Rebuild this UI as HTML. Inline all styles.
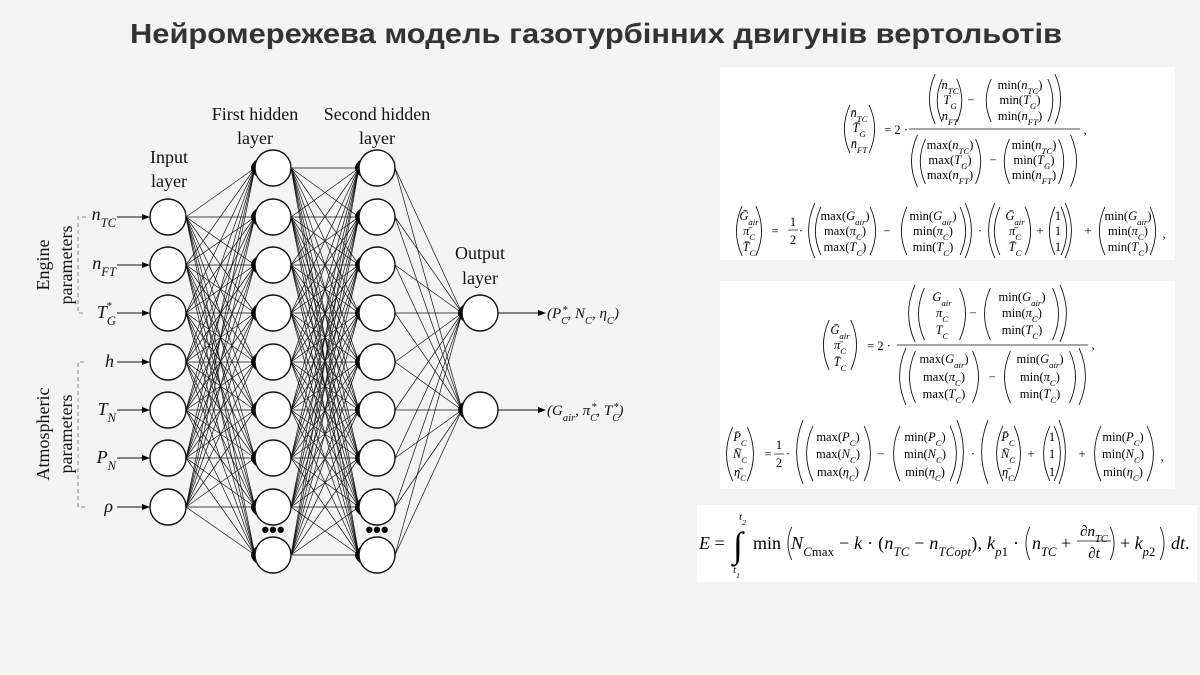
<!DOCTYPE html>
<html><head><meta charset="utf-8">
<style>
html,body{margin:0;padding:0;background:#f4f4f4;}
svg{display:block}
.t{font-family:"Liberation Sans",sans-serif;font-weight:bold;font-size:28px;fill:#333;}
.L{font-family:"Liberation Serif",serif;font-size:18px;fill:#111;text-anchor:middle}
.v{font-family:"Liberation Serif",serif;font-size:18px;font-style:italic;fill:#111;text-anchor:end}
.o{font-family:"Liberation Serif",serif;font-size:15px;font-style:italic;fill:#111}
.s{font-size:70%;baseline-shift:sub}
.p{font-size:70%;baseline-shift:super}
.m{font-family:"Liberation Serif",serif;font-size:12.5px;fill:#000;text-anchor:middle}
.m .i,.e .i{font-style:italic}
.e{font-family:"Liberation Serif",serif;font-size:18px;fill:#000}
</style></head><body>
<svg id="S" width="1200" height="675" viewBox="0 0 1200 675" xmlns="http://www.w3.org/2000/svg">
<rect width="1200" height="675" fill="#f4f4f4"/>
<text class="t" x="130" y="43" textLength="932" lengthAdjust="spacingAndGlyphs">Нейромережева модель газотурбінних двигунів вертольотів</text>

<g id="net" stroke="#111" fill="none" stroke-width="0.7"></g>

<text class="L" x="169" y="163">Input</text><text class="L" x="169" y="187">layer</text>
<text class="L" x="255" y="120">First hidden</text><text class="L" x="255" y="144">layer</text>
<text class="L" x="377" y="120">Second hidden</text><text class="L" x="377" y="144">layer</text>
<text class="L" x="480" y="259">Output</text><text class="L" x="480" y="284">layer</text>

<text class="v" x="116" y="220">n<tspan class="s">TC</tspan></text>
<text class="v" x="116" y="269">n<tspan class="s">FT</tspan></text>
<text class="v" x="116" y="318">T<tspan class="s">G</tspan></text><text class="o" x="106" y="309" style="font-size:11px">*</text>
<text class="v" x="114" y="367">h</text>
<text class="v" x="116" y="415">T<tspan class="s">N</tspan></text>
<text class="v" x="116" y="463">P<tspan class="s">N</tspan></text>
<text class="v" x="113" y="512">ρ</text>

<text class="L" transform="translate(49,265) rotate(-90)">Engine</text>
<text class="L" transform="translate(72,265) rotate(-90)">parameters</text>
<text class="L" transform="translate(49,434) rotate(-90)">Atmospheric</text>
<text class="L" transform="translate(72,434) rotate(-90)">parameters</text>
<path d="M86 217 H78 V313 H86 M84 362 H78 V507 H86" stroke="#888" stroke-dasharray="4,3" fill="none"/>

<text class="o" x="547" y="318">(P<tspan class="s">C</tspan><tspan dx="-6" class="p">*</tspan>, N<tspan class="s">C</tspan>, η<tspan class="s">C</tspan>)</text>
<text class="o" x="547" y="415">(G<tspan class="s">air</tspan>, π<tspan class="s">C</tspan><tspan dx="-6" class="p">*</tspan>, T<tspan class="s">C</tspan><tspan dx="-6" class="p">*</tspan>)</text>
<text x="273" y="537" font-size="22" font-weight="bold" text-anchor="middle" font-family="Liberation Sans">•••</text>
<text x="377" y="537" font-size="22" font-weight="bold" text-anchor="middle" font-family="Liberation Sans">•••</text>

<rect x="720" y="67" width="455" height="193" fill="#fff"/>
<rect x="720" y="281" width="455" height="208" fill="#fff"/>
<rect x="697" y="505" width="500" height="77" fill="#fff"/>
<g id="par" stroke="#111" fill="none" stroke-width="0.9"></g>

<g class="m">
<text x="859" y="117"><tspan class="i">n̄</tspan><tspan class="s i">TC</tspan></text>
<text x="859" y="132"><tspan class="i">T̄</tspan><tspan class="s i">G</tspan></text>
<text x="859" y="148"><tspan class="i">n̄</tspan><tspan class="s i">FT</tspan></text>
<text x="896" y="134">= 2 ·</text>
<text x="950" y="89"><tspan class="i">n</tspan><tspan class="s i">TC</tspan></text>
<text x="950" y="104"><tspan class="i">T</tspan><tspan class="s i">G</tspan></text>
<text x="950" y="120"><tspan class="i">n</tspan><tspan class="s i">FT</tspan></text>
<text x="971" y="104">−</text>
<text x="1020" y="89">min(<tspan class="i">n</tspan><tspan class="s i">TC</tspan>)</text>
<text x="1020" y="104">min(<tspan class="i">T</tspan><tspan class="s i">G</tspan>)</text>
<text x="1020" y="120">min(<tspan class="i">n</tspan><tspan class="s i">FT</tspan>)</text>
<text x="950" y="149">max(<tspan class="i">n</tspan><tspan class="s i">TC</tspan>)</text>
<text x="950" y="164">max(<tspan class="i">T</tspan><tspan class="s i">G</tspan>)</text>
<text x="950" y="179">max(<tspan class="i">n</tspan><tspan class="s i">FT</tspan>)</text>
<text x="993" y="164">−</text>
<text x="1034" y="149">min(<tspan class="i">n</tspan><tspan class="s i">TC</tspan>)</text>
<text x="1034" y="164">min(<tspan class="i">T</tspan><tspan class="s i">G</tspan>)</text>
<text x="1034" y="179">min(<tspan class="i">n</tspan><tspan class="s i">FT</tspan>)</text>
<text x="1085" y="134">,</text>
</g>
<line x1="909" y1="129" x2="1080" y2="129" stroke="#111" stroke-width="0.8"/>

<g class="m">
<text x="749" y="220"><tspan class="i">Ḡ</tspan><tspan class="s i">air</tspan></text>
<text x="749" y="235"><tspan class="i">π̄</tspan><tspan class="s i">C</tspan></text>
<text x="749" y="251"><tspan class="i">T̄</tspan><tspan class="s i">C</tspan></text>
<text x="775" y="235">=</text>
<text x="793" y="226">1</text><text x="793" y="244">2</text>
<text x="801" y="235">·</text>
<text x="845" y="220">max(<tspan class="i">G</tspan><tspan class="s i">air</tspan>)</text>
<text x="845" y="235">max(<tspan class="i">π</tspan><tspan class="s i">C</tspan>)</text>
<text x="845" y="251">max(<tspan class="i">T</tspan><tspan class="s i">C</tspan>)</text>
<text x="887" y="235">−</text>
<text x="933" y="220">min(<tspan class="i">G</tspan><tspan class="s i">air</tspan>)</text>
<text x="933" y="235">min(<tspan class="i">π</tspan><tspan class="s i">C</tspan>)</text>
<text x="933" y="251">min(<tspan class="i">T</tspan><tspan class="s i">C</tspan>)</text>
<text x="980" y="235">·</text>
<text x="1015" y="220"><tspan class="i">Ḡ</tspan><tspan class="s i">air</tspan></text>
<text x="1015" y="235"><tspan class="i">π̄</tspan><tspan class="s i">C</tspan></text>
<text x="1015" y="251"><tspan class="i">T̄</tspan><tspan class="s i">C</tspan></text>
<text x="1040" y="235">+</text>
<text x="1058" y="220">1</text><text x="1058" y="235">1</text><text x="1058" y="251">1</text>
<text x="1088" y="235">+</text>
<text x="1128" y="220">min(<tspan class="i">G</tspan><tspan class="s i">air</tspan>)</text>
<text x="1128" y="235">min(<tspan class="i">π</tspan><tspan class="s i">C</tspan>)</text>
<text x="1128" y="251">min(<tspan class="i">T</tspan><tspan class="s i">C</tspan>)</text>
<text x="1164" y="238">,</text>
</g>
<line x1="788" y1="230" x2="798" y2="230" stroke="#111" stroke-width="0.7"/>

<g class="m">
<text x="840" y="334"><tspan class="i">Ḡ</tspan><tspan class="s i">air</tspan></text>
<text x="840" y="349"><tspan class="i">π̄</tspan><tspan class="s i">C</tspan></text>
<text x="840" y="366"><tspan class="i">T̄</tspan><tspan class="s i">C</tspan></text>
<text x="879" y="350">= 2 ·</text>
<text x="942" y="301"><tspan class="i">G</tspan><tspan class="s i">air</tspan></text>
<text x="942" y="317"><tspan class="i">π</tspan><tspan class="s i">C</tspan></text>
<text x="942" y="334"><tspan class="i">T</tspan><tspan class="s i">C</tspan></text>
<text x="973" y="317">−</text>
<text x="1022" y="301">min(<tspan class="i">G</tspan><tspan class="s i">air</tspan>)</text>
<text x="1022" y="317">min(<tspan class="i">π</tspan><tspan class="s i">C</tspan>)</text>
<text x="1022" y="334">min(<tspan class="i">T</tspan><tspan class="s i">C</tspan>)</text>
<text x="944" y="363">max(<tspan class="i">G</tspan><tspan class="s i">air</tspan>)</text>
<text x="944" y="381">max(<tspan class="i">π</tspan><tspan class="s i">C</tspan>)</text>
<text x="944" y="398">max(<tspan class="i">T</tspan><tspan class="s i">C</tspan>)</text>
<text x="992" y="381">−</text>
<text x="1040" y="363">min(<tspan class="i">G</tspan><tspan class="s i">air</tspan>)</text>
<text x="1040" y="381">min(<tspan class="i">π</tspan><tspan class="s i">C</tspan>)</text>
<text x="1040" y="398">min(<tspan class="i">T</tspan><tspan class="s i">C</tspan>)</text>
<text x="1093" y="349">,</text>
</g>
<line x1="897" y1="345" x2="1088" y2="345" stroke="#111" stroke-width="0.8"/>

<g class="m">
<text x="740" y="441"><tspan class="i">P̄</tspan><tspan class="s i">C</tspan></text>
<text x="740" y="458"><tspan class="i">N̄</tspan><tspan class="s i">C</tspan></text>
<text x="740" y="476"><tspan class="i">η̄</tspan><tspan class="s i">C</tspan></text>
<text x="768" y="458">=</text>
<text x="779" y="449">1</text><text x="779" y="467">2</text>
<text x="788" y="458">·</text>
<text x="838" y="441">max(<tspan class="i">P</tspan><tspan class="s i">C</tspan>)</text>
<text x="838" y="458">max(<tspan class="i">N</tspan><tspan class="s i">C</tspan>)</text>
<text x="838" y="476">max(<tspan class="i">η</tspan><tspan class="s i">C</tspan>)</text>
<text x="881" y="458">−</text>
<text x="925" y="441">min(<tspan class="i">P</tspan><tspan class="s i">C</tspan>)</text>
<text x="925" y="458">min(<tspan class="i">N</tspan><tspan class="s i">C</tspan>)</text>
<text x="925" y="476">min(<tspan class="i">η</tspan><tspan class="s i">C</tspan>)</text>
<text x="973" y="458">·</text>
<text x="1008" y="441"><tspan class="i">P̄</tspan><tspan class="s i">C</tspan></text>
<text x="1008" y="458"><tspan class="i">N̄</tspan><tspan class="s i">C</tspan></text>
<text x="1008" y="476"><tspan class="i">η̄</tspan><tspan class="s i">C</tspan></text>
<text x="1031" y="458">+</text>
<text x="1052" y="441">1</text><text x="1052" y="458">1</text><text x="1052" y="476">1</text>
<text x="1082" y="458">+</text>
<text x="1123" y="441">min(<tspan class="i">P</tspan><tspan class="s i">C</tspan>)</text>
<text x="1123" y="458">min(<tspan class="i">N</tspan><tspan class="s i">C</tspan>)</text>
<text x="1123" y="476">min(<tspan class="i">η</tspan><tspan class="s i">C</tspan>)</text>
<text x="1162" y="461">,</text>
</g>
<line x1="774" y1="454" x2="784" y2="454" stroke="#111" stroke-width="0.7"/>

<g class="e">
<text x="699" y="549"><tspan class="i">E</tspan> =</text>
<text x="733" y="557" font-size="36">∫</text>
<text x="739" y="520" font-size="11" style="font-style:italic">t<tspan class="s">2</tspan></text>
<text x="733" y="573" font-size="11" style="font-style:italic">t<tspan class="s">1</tspan></text>
<text x="753" y="549">min</text>
<text x="791" y="549" textLength="228" lengthAdjust="spacing"><tspan class="i">N</tspan><tspan class="s"><tspan class="i">C</tspan>max</tspan> − <tspan class="i">k</tspan> · (<tspan class="i">n</tspan><tspan class="s i">TC</tspan> − <tspan class="i">n</tspan><tspan class="s i">TCopt</tspan>), <tspan class="i">k</tspan><tspan class="s i">p</tspan><tspan class="s">1</tspan> ·</text>
<text x="1032" y="549"><tspan class="i">n</tspan><tspan class="s i">TC</tspan> +</text>
<text x="1094" y="536" text-anchor="middle" font-size="15">∂<tspan class="i">n</tspan><tspan class="s i">TC</tspan></text>
<text x="1094" y="558" text-anchor="middle" font-size="15">∂<tspan class="i">t</tspan></text>
<text x="1120" y="549">+ <tspan class="i">k</tspan><tspan class="s i">p</tspan><tspan class="s">2</tspan></text>
<text x="1171" y="549"><tspan class="i">dt</tspan>.</text>
</g>
<line x1="1077" y1="541" x2="1111" y2="541" stroke="#111" stroke-width="0.8"/>
</svg>
<script>
var NS="http://www.w3.org/2000/svg",net=document.getElementById('net'),par=document.getElementById('par');
function el(g,t,a){var e=document.createElementNS(NS,t);for(var k in a)e.setAttribute(k,a[k]);g.appendChild(e);return e;}
var R=18;
var inY=[217,265,313,362,410,458,507],hY=[168,217,265,313,362,410,458,507,555],oY=[313,410];
var xi=168,x1=273,x2=377,xo=480;
function conn(xa,ya,xb,yb){ya.forEach(function(a){yb.forEach(function(b){el(net,'line',{x1:xa+R,y1:a,x2:xb-R,y2:b});});});}
conn(xi,inY,x1,hY);conn(x1,hY,x2,hY);conn(x2,hY,xo,oY);
function wedge(x,y){el(net,'path',{d:'M'+(x-R+1)+' '+(y-8)+' Q'+(x-R-9)+' '+y+' '+(x-R+1)+' '+(y+8)+' Z',fill:'#000',stroke:'none'});}
hY.forEach(function(y){wedge(x1,y);wedge(x2,y);});oY.forEach(function(y){wedge(xo,y);});
function arrow(xa,xb,y){el(net,'line',{x1:xa,y1:y,x2:xb-6,y2:y,'stroke-width':1});el(net,'path',{d:'M'+xb+' '+y+' l-8 -3 v6 z',fill:'#000',stroke:'none'});}
inY.forEach(function(y){arrow(117,xi-R,y);});
oY.forEach(function(y){arrow(xo+R,546,y);});
function circ(x,y){el(net,'ellipse',{cx:x,cy:y,rx:R,ry:R,fill:'#fff','stroke-width':1.4});}
inY.forEach(function(y){circ(xi,y);});hY.forEach(function(y){circ(x1,y);circ(x2,y);});oY.forEach(function(y){circ(xo,y);});
var P=[[843,876,105,153],[928,1062,74,124],[936,963,79,122],[985,1054,79,122],[910,1078,135,187],[919,982,139,184],[1003,1065,139,184],
[735,763,206,256],[807,973,203,258],[814,877,207,255],[900,967,207,255],[987,1073,203,258],[993,1032,207,255],[1048,1068,207,255],[1098,1157,207,255],
[822,858,320,370],[907,1068,285,342],[917,967,288,340],[983,1060,288,340],[898,1087,348,405],[908,980,351,403],[1003,1077,351,403],
[725,755,427,481],[795,965,420,484],[805,872,426,481],[892,958,426,481],[980,1067,420,484],[995,1022,426,481],[1042,1062,426,481],[1093,1155,426,481],
[787,1165,527,560],[1025,1115,527,560]];
P.forEach(function(p){var m=(p[2]+p[3])/2,b=Math.min(8,(p[3]-p[2])/7);
el(par,'path',{d:'M'+(p[0]+b)+' '+p[2]+' Q'+(p[0]-b*0.6)+' '+m+' '+(p[0]+b)+' '+p[3]});
el(par,'path',{d:'M'+(p[1]-b)+' '+p[2]+' Q'+(p[1]+b*0.6)+' '+m+' '+(p[1]-b)+' '+p[3]});});
</script>
</body></html>
